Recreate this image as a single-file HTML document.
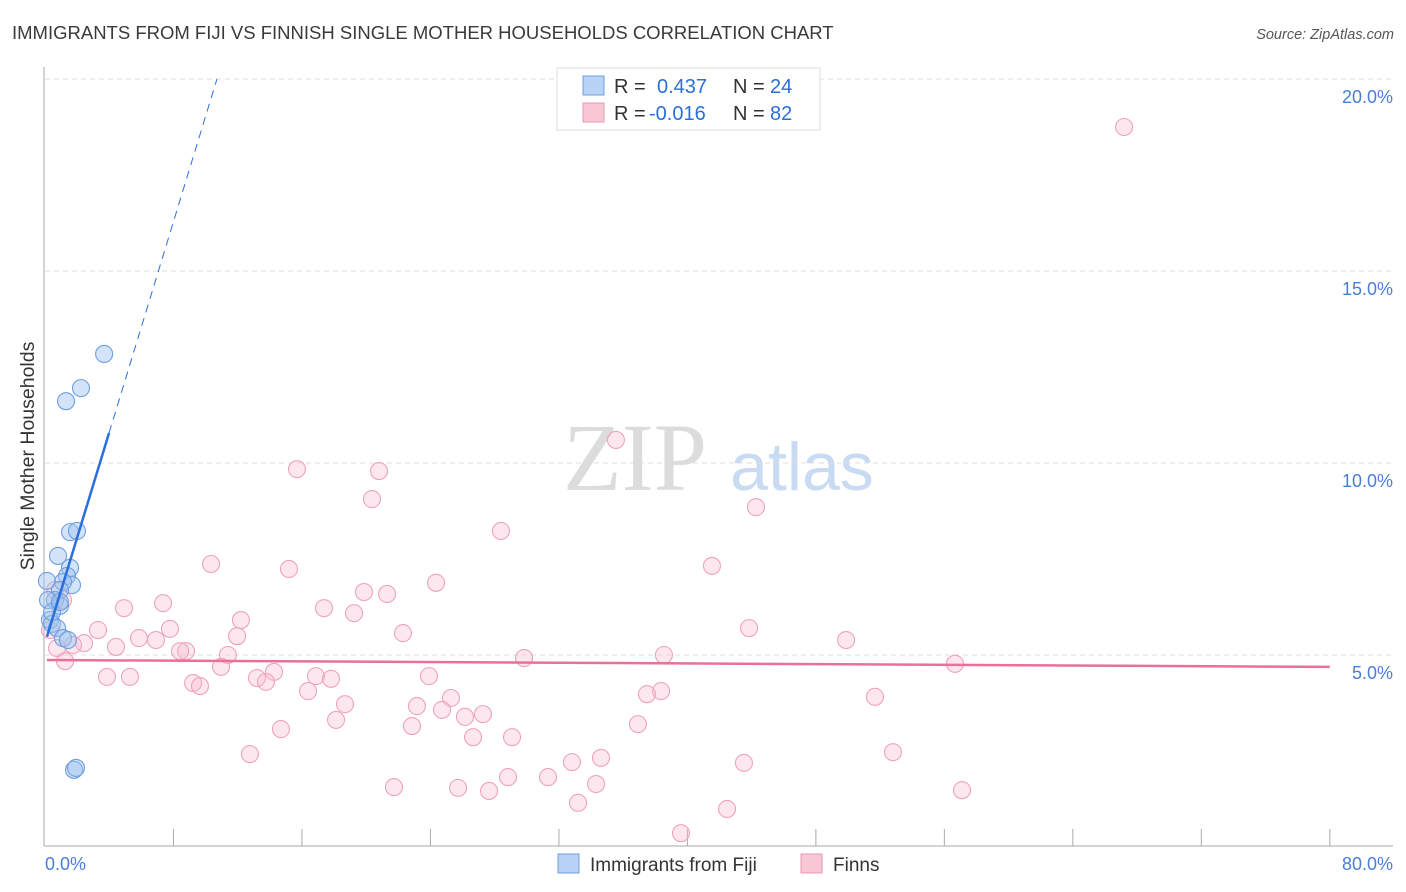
<!DOCTYPE html>
<html><head><meta charset="utf-8"><style>
body{margin:0;background:#fff;font-family:"Liberation Sans",sans-serif;}
svg{display:block}
</style></head><body>
<svg id="chart" width="1406" height="892" xmlns="http://www.w3.org/2000/svg">
<text x="12" y="39" font-size="18.5" fill="#3a3a3a">IMMIGRANTS FROM FIJI VS FINNISH SINGLE MOTHER HOUSEHOLDS CORRELATION CHART</text>
<text x="1394" y="39" font-size="14.5" fill="#555" font-style="italic" text-anchor="end">Source: ZipAtlas.com</text>
<text transform="translate(34,456) rotate(-90)" font-size="19.5" fill="#333" text-anchor="middle">Single Mother Households</text>
<g>
<text x="635" y="490" font-size="96" fill="#dcdcdc" text-anchor="middle" font-family="Liberation Serif,serif">ZIP</text>
<text x="802" y="490" font-size="68" fill="#c9dbf2" text-anchor="middle">atlas</text>
</g>
<g id="grid"></g><g id="axes"></g><g id="pinkpts"></g><g id="bluepts"></g><g id="lines"></g>
<g>
<rect x="557" y="68" width="263" height="62" fill="#fff" stroke="#ddd"/>
<rect x="583" y="76" width="21" height="19" fill="#b8d3f5" stroke="#6e9ee0"/>
<rect x="583" y="103" width="21" height="19" fill="#f9c6d4" stroke="#eb97b1"/>
<text x="614" y="93" font-size="20" fill="#333">R =</text>
<text x="657" y="93" font-size="20" fill="#2a6fdb">0.437</text>
<text x="733" y="93" font-size="20" fill="#333">N =</text>
<text x="770" y="93" font-size="20" fill="#2a6fdb">24</text>
<text x="614" y="120" font-size="20" fill="#333">R =</text>
<text x="649" y="120" font-size="20" fill="#2a6fdb">-0.016</text>
<text x="733" y="120" font-size="20" fill="#333">N =</text>
<text x="770" y="120" font-size="20" fill="#2a6fdb">82</text>
</g>
<g>
<rect x="558" y="854" width="21" height="19" fill="#b8d3f5" stroke="#6e9ee0"/>
<text x="590" y="871" font-size="19" fill="#333">Immigrants from Fiji</text>
<rect x="801" y="854" width="21" height="19" fill="#f9c6d4" stroke="#eb97b1"/>
<text x="833" y="871" font-size="19" fill="#333">Finns</text>
</g>
</svg>
<script>
const yTicks=[5,10,15,20];
const xTickLabels=["0.0%","80.0%"];
const blueX=[3.68,2.24,1.31,1.56,1.99,0.81,1.56,1.37,1.68,1.12,0.12,0.93,0.62,0.93,0.31,0.44,0.75,1.12,1.43,1.81,1.93,0.19,0.44,0.93];
const blueY=[12.84,11.95,11.61,8.20,8.23,7.58,7.27,7.06,6.82,6.90,6.93,6.69,6.43,6.28,5.91,5.81,5.70,5.44,5.39,2.01,2.06,6.43,6.12,6.38];
const pinkX=[67.19,35.55,15.69,20.80,20.36,28.39,44.27,10.34,15.19,41.53,24.35,19.86,21.30,7.35,4.92,17.37,19.24,12.20,22.29,43.84,49.88,3.30,7.78,11.96,5.85,6.91,2.43,4.42,1.74,0.75,8.78,8.41,11.39,38.54,29.83,1.25,56.66,10.96,14.26,23.91,3.86,5.29,16.87,17.81,13.20,13.76,9.22,9.65,16.38,38.36,37.48,51.68,25.28,18.68,23.16,24.72,27.27,26.15,18.12,22.85,36.92,14.69,26.65,29.08,12.76,52.80,34.62,32.81,43.52,28.83,31.32,34.31,21.73,25.72,27.65,57.10,33.19,42.47,39.60,1.12,0.62,0.31];
const pinkY=[18.75,10.60,9.84,9.79,9.06,8.23,8.85,7.37,7.24,7.32,6.88,6.64,6.59,6.35,6.22,6.22,6.09,5.91,5.57,5.70,5.39,5.65,5.68,5.49,5.44,5.39,5.31,5.21,5.26,5.18,5.10,5.10,5.00,5.00,4.92,4.84,4.77,4.69,4.56,4.45,4.43,4.43,4.45,4.38,4.40,4.30,4.27,4.19,4.06,4.06,3.98,3.91,3.88,3.72,3.67,3.57,3.46,3.39,3.31,3.15,3.20,3.07,2.86,2.86,2.42,2.47,2.32,2.21,2.19,1.82,1.82,1.64,1.56,1.54,1.46,1.48,1.15,0.99,0.36,6.43,6.69,5.65];
const blueFit=[5.31,1.372];
const pinkFit=[4.87,-0.00225];
const NS="http://www.w3.org/2000/svg";
const X=v=>45+v*16.06, Y=v=>847-v*38.4;
function mk(parent,tag,attrs){const e=document.createElementNS(NS,tag);for(const k in attrs)e.setAttribute(k,attrs[k]);document.getElementById(parent).appendChild(e);return e;}
yTicks.forEach(t=>{
 const l=mk('grid','line',{x1:45,x2:1393,y1:Y(t),y2:Y(t),stroke:'#ddd','stroke-dasharray':'5,4'});
 
 
 const tx=mk('grid','text',{x:1393,y:Y(t)+24,'font-size':18,fill:'#4a7fd4','text-anchor':'end'});
 tx.textContent=t.toFixed(1)+'%';
 
 
});
const ya=mk('axes','line',{x1:44,x2:44,y1:67,y2:846,stroke:'#aaa'});


const xa=mk('axes','line',{x1:44,x2:1393,y1:846,y2:846,stroke:'#aaa'});


for(let i=1;i<=10;i++){const t=mk('axes','line',{x1:X(i*8),x2:X(i*8),y1:829,y2:846,stroke:'#aaa'});
 
 }
const xl0=mk('axes','text',{x:45,y:870,'font-size':18,fill:'#4a7fd4'});xl0.textContent=xTickLabels[0];


const xl1=mk('axes','text',{x:1393,y:870,'font-size':18,fill:'#4a7fd4','text-anchor':'end'});xl1.textContent=xTickLabels[1];


pinkX.forEach((v,i)=>{const c=mk('pinkpts','circle',{cx:X(v),cy:Y(pinkY[i]),r:8.5,fill:'rgba(246,185,205,0.35)',stroke:'#efa3bb','stroke-width':1.1});
 
 });
blueX.forEach((v,i)=>{const c=mk('bluepts','circle',{cx:X(v),cy:Y(blueY[i]),r:8.5,fill:'rgba(160,195,240,0.45)',stroke:'#6e9ee0','stroke-width':1.1});
 
 });
const bl=mk('lines','line',{x1:X(0.12),y1:Y(blueFit[0]+blueFit[1]*0.12),x2:X(3.99),y2:Y(blueFit[0]+blueFit[1]*3.99),stroke:'#2a6fdb','stroke-width':2.5});


const xe=(20-blueFit[0])/blueFit[1];
const bd=mk('lines','line',{x1:X(3.99),y1:Y(blueFit[0]+blueFit[1]*3.99),x2:X(xe),y2:Y(20),stroke:'#2a6fdb','stroke-width':1,'stroke-dasharray':'8,6'});


const pl=mk('lines','line',{x1:X(0.12),y1:Y(pinkFit[0]+pinkFit[1]*0.12),x2:X(80),y2:Y(pinkFit[0]+pinkFit[1]*80),stroke:'#e8709a','stroke-width':2.5});


</script>
</body></html>
